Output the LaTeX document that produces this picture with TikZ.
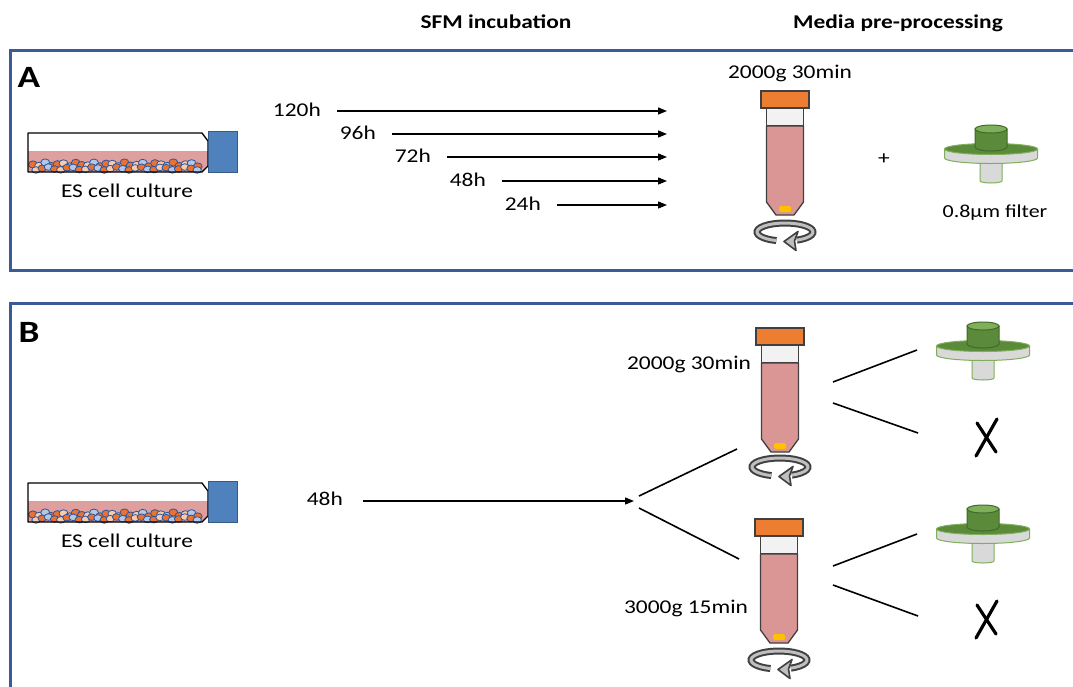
\documentclass[tikz,border=0pt]{standalone}
\usepackage{fontspec}
\setmainfont{Carlito}[FakeStretch=1.2]
\usetikzlibrary{arrows.meta}

\definecolor{frameblue}{HTML}{3A5A98}
\definecolor{capor}{HTML}{ED7D31}
\definecolor{media}{HTML}{D99694}
\definecolor{mediaflask}{HTML}{DDA09E}
\definecolor{tubewhite}{HTML}{F2F2F2}
\definecolor{edge}{HTML}{404040}
\definecolor{pellet}{HTML}{FFC000}
\definecolor{fgreen}{HTML}{5A8A3A}
\definecolor{fgreenlt}{HTML}{7FAF5A}
\definecolor{fedge}{HTML}{3F6B28}
\definecolor{fgray}{HTML}{D9D9D9}
\definecolor{capblue}{HTML}{4F81BD}
\definecolor{cellblue}{HTML}{2F5597}
\definecolor{cellor}{HTML}{E97132}
\definecolor{cellbg}{HTML}{F8CBAD}
\definecolor{celllb}{HTML}{B4C7E7}
\definecolor{ringgray}{HTML}{BFBFBF}

\tikzset{
  lbl/.style={font=\fontsize{19.5}{23}\selectfont, inner sep=0pt, text height=14pt, text depth=2pt},
  head/.style={lbl, font=\fontsize{19.5}{23}\selectfont\bfseries},
  panel/.style={font=\fontsize{31}{36}\selectfont\bfseries, inner sep=0pt},
  frame/.style={draw=frameblue, line width=3},
  arr/.style={line width=1.3, -{Triangle[length=9pt,width=7pt]}},
  branch/.style={line width=1.6},
  xmark/.style={line width=3.2, line cap=round},
  % rotation sign under a tube, origin at the ring centre
  spin/.pic={
    \draw[edge, line width=7] (108:28 and 9) arc[start angle=108, end angle=425, x radius=28, y radius=9];
    \draw[ringgray, line width=3] (108:28 and 9) arc[start angle=108, end angle=425, x radius=28, y radius=9];
    \filldraw[fill=ringgray, draw=edge, line width=1.6, line join=round]
      (13,-0.5) -- (-1,9.5) -- (11,18.5) -- (9.5,9) -- cycle;
  },
  % centrifuge tube, origin at the top centre of the cap
  tube/.pic={
    \filldraw[fill=tubewhite, draw=edge, line width=1.3] (-18.5,17) rectangle (18.5,35);
    \filldraw[fill=media, draw=edge, line width=1.3, line join=round]
      (-18.5,35) -- (18.5,35) -- (18.5,111) -- (9,124) -- (-9,124) -- (-18.5,111) -- cycle;
    \fill[pellet, rounded corners=1.5] (-6,115) rectangle (6,121);
    \filldraw[fill=capor, draw=edge, line width=1.3] (-24,0) rectangle (24,17);
  },
  % syringe filter, origin at the top centre of the housing
  filt/.pic={
    \filldraw[fill=fgray, draw=fgreenlt, line width=1]
      (-11,34) -- (-11,56) arc[start angle=180, end angle=0, x radius=11, y radius=2] -- (11,34) -- cycle;
    \filldraw[fill=fgray, draw=fgreenlt, line width=1]
      (-46.5,24) -- (-46.5,33) arc[start angle=180, end angle=0, x radius=46.5, y radius=5.5] -- (46.5,24) -- cycle;
    \filldraw[fill=fgreen, draw=fgreenlt, line width=1] (0,24) ellipse [x radius=46.5, y radius=5.5];
    \filldraw[fill=fgreen, draw=fedge, line width=1]
      (-16,4) -- (-16,22) arc[start angle=180, end angle=0, x radius=16, y radius=4] -- (16,4) -- cycle;
    \filldraw[fill=fgreenlt, draw=fedge, line width=1] (0,4) ellipse [x radius=16, y radius=4];
  },
  % culture flask lying flat, origin at the top left of the body
  flask/.pic={
    \fill[mediaflask] (0,18) -- (180,18) -- (180,33) -- (174,39) -- (0,39) -- cycle;
    \foreach \i in {0,...,27}{
      \pgfmathsetmacro\cx{5+6.1*\i}
      \pgfmathsetmacro\cy{31.5+2*sin(\i*137)}
      \pgfmathtruncatemacro\k{mod(\i*5,4)}
      \ifcase\k \def\cc{cellor}\or \def\cc{cellbg}\or \def\cc{celllb}\or \def\cc{cellor}\fi
      \filldraw[fill=\cc, draw=cellblue, line width=0.8] (\cx,\cy) ellipse [x radius=4.4, y radius=3.6];
    }
    \foreach \i in {0,...,26}{
      \pgfmathsetmacro\cx{8+6.2*\i}
      \pgfmathsetmacro\cy{35.5+1.5*cos(\i*97)}
      \pgfmathtruncatemacro\k{mod(\i*3+1,4)}
      \ifcase\k \def\cc{cellor}\or \def\cc{cellbg}\or \def\cc{cellor}\or \def\cc{celllb}\fi
      \filldraw[fill=\cc, draw=cellblue, line width=0.8] (\cx,\cy) ellipse [x radius=4.2, y radius=3.3];
    }
    \draw[black, line width=1.3, line join=round]
      (0,0) -- (174,0) -- (180,8) -- (180,33) -- (174,39) -- (0,39) -- cycle;
    \fill[capblue] (180,-2) rectangle (209,39);
    \draw[capblue!70!black, line width=0.6] (180,-2) rectangle (209,39);
  }
}

\begin{document}
\begin{tikzpicture}[x=1pt, y=-1pt]
\useasboundingbox (0,0) rectangle (1073,686);
\fill[white] (0,0) rectangle (1073,686);

% column headings
\node[head] (hSFM) at (496,22) {SFM incubation};
\node[head] (hMedia) at (898,22) {Media pre-processing};

% ---------------- panel A ----------------
\draw[frame] (10,50) rectangle (1090,270);
\node[panel] (pA) at (29,77) {A};

\pic at (28,133) {flask};
\node[lbl] (escA) at (127,191) {ES cell culture};

\foreach \t/\sx/\y in {120h/337/111, 96h/392/134, 72h/447/157, 48h/502/181, 24h/557/205}{
  \coordinate (s\t) at (\sx,\y);
  \coordinate (e\t) at (667,\y);
  \node[lbl, anchor=east] (l\t) at ([xshift=-16pt,yshift=1pt]s\t) {\t};
  \draw[arr] (s\t) -- (e\t);
}

\node[lbl] (spinA) at (790,72) {2000g 30min};
\pic at (785,91) {tube};
\pic at (785,232) {spin};
\node[lbl] (plus) at (884,158) {+};
\pic at (991,125) {filt};
\node[lbl, font=\fontsize{18.3}{22}\selectfont] (filtA) at (995,211) {0.8µm filter};

% ---------------- panel B ----------------
\draw[frame] (10,303) rectangle (1090,720);
\node[panel] (pB) at (29,332) {B};

\pic at (28,483) {flask};
\node[lbl] (escB) at (127,541) {ES cell culture};

\coordinate (s48b) at (363,501);
\coordinate (fork) at (634,501);
\node[lbl, anchor=east] (l48b) at (343,499) {48h};
\draw[arr] (s48b) -- (fork);

\coordinate (fkU) at (639,496);
\coordinate (tuU) at (737,449);
\coordinate (fkL) at (639,508);
\coordinate (tuL) at (739,559);
\draw[branch] (fkU) -- (tuU);
\draw[branch] (fkL) -- (tuL);

% upper branch: 2000g
\node[lbl] (spinB1) at (689,363) {2000g 30min};
\pic at (780,328) {tube};
\pic at (780,467) {spin};
\coordinate (uR1) at (833,382);
\coordinate (uF) at (917,350);
\coordinate (uR2) at (833,403);
\coordinate (uX) at (918,433);
\draw[branch] (uR1) -- (uF);
\draw[branch] (uR2) -- (uX);
\pic at (983,322) {filt};
\draw[xmark] (977,423) -- (996,452);
\draw[xmark] (997,419) -- (976,456);

% lower branch: 3000g
\node[lbl] (spinB2) at (686,607) {3000g 15min};
\pic at (779,519) {tube};
\pic at (779,660) {spin};
\coordinate (lR1) at (833,566);
\coordinate (lF) at (917,534);
\coordinate (lR2) at (833,585);
\coordinate (lX) at (918,616);
\draw[branch] (lR1) -- (lF);
\draw[branch] (lR2) -- (lX);
\pic at (983,505) {filt};
\draw[xmark] (977,605) -- (996,634);
\draw[xmark] (997,601) -- (976,638);
\end{tikzpicture}
\end{document}
